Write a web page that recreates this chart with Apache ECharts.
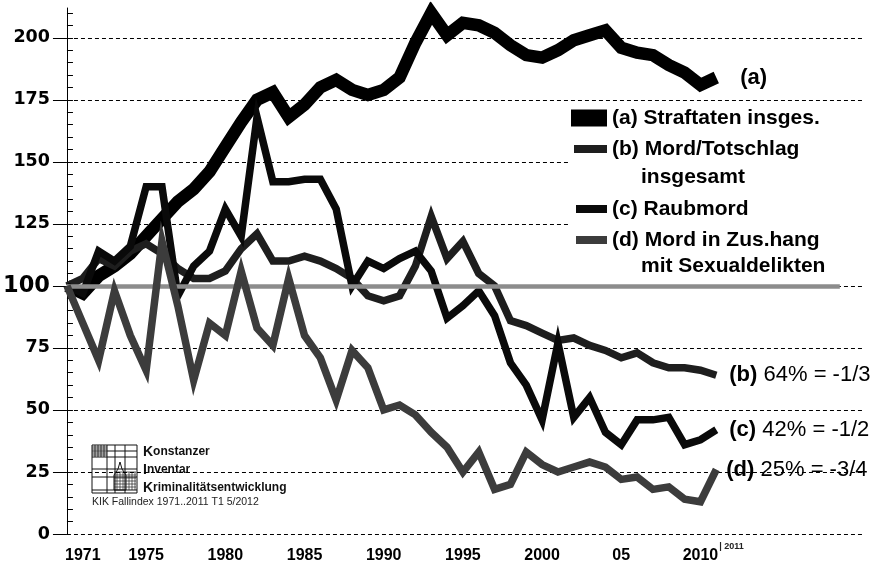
<!DOCTYPE html>
<html>
<head>
<meta charset="utf-8">
<script src="https://cdn.jsdelivr.net/npm/echarts@6/dist/echarts.min.js"></script>
<style>
html,body{margin:0;padding:0;background:#fff;}
#c{width:876px;height:566px;}
</style>
</head>
<body>
<div id="c"></div>
<script>
// ---------- data (index, first year = 100) ----------
const years = [1970,1971,1972,1973,1974,1975,1976,1977,1978,1979,
               1980,1981,1982,1983,1984,1985,1986,1987,1988,1989,
               1990,1991,1992,1993,1994,1995,1996,1997,1998,1999,
               2000,2001,2002,2003,2004,2005,2006,2007,2008,2009,
               2010,2011];
const seriesA = [100,97,104,108,113,120,127,134,139,146,
                 156,166,175,178,168,173,180,183,179,177,
                 179,184,198,210,201,206,205,202,197,193,
                 192,195,199,201,203,196,194,193,189,186,
                 181,184];
const seriesB = [100,103,111,108,114,117,113,107,103,103,
                 106,115,121,110,110,112,110,107,103,96,
                 94,96,108,128,111,118,105,100,86,84,
                 81,78,79,76,74,71,73,69,67,67,
                 66,64];
const seriesC = [100,97,114,110,116,140,140,96,108,114,
                 131,120,168,142,142,143,143,131,100,110,
                 107,111,114,106,87,92,98,88,69,60,
                 46,77,47,55,41,36,46,46,47,36,
                 38,42];
const seriesD = [100,85,70,98,80,66,118,92,62,85,
                 80,106,83,76,103,80,71,54,74,67,
                 50,52,48,41,35,25,33,18,20,33,
                 28,25,27,29,27,22,23,18,19,14,
                 13,26];
const legendNames = ['(a) Straftaten insges.', '(b) Mord/Totschlag\ninsgesamt', '(c) Raubmord', '(d) Mord in Zus.hang\nmit Sexualdelikten'];
const endTags = ['(a)', '(b)', '(c)', '(d)'];
const endTexts = ['', '64% = -1/3', '42% = -1/2', '25% = -3/4'];
const yTickValues = [0,25,50,75,100,125,150,175,200];
const xTickYears = [1971,1975,1980,1985,1990,1995,2000,2005,2010];
const xTickLabels = ['1971','1975','1980','1985','1990','1995','2000','05','2010'];
const lastYearNote = 2011;
const refValue = 100;
const refEndYear = 2018.8;
const logoLines = ['Konstanzer', 'Inventar', 'Kriminalitätsentwicklung'];
const sourceNote = 'KIK Fallindex 1971..2011 T1 5/2012';

// ---------- chart ----------
const FONT = '"Liberation Sans", Arial, Helvetica, sans-serif';
const WIDE = '"DejaVu Sans", "Liberation Sans", Arial, sans-serif';
const chart = echarts.init(document.getElementById('c'), null, {renderer: 'canvas', width: 876, height: 566});

const colors = ['#000000', '#1e1e1e', '#0a0a0a', '#3c3c3c'];
const widths = [12.5, 7.5, 7.5, 7.5];
const endDist = [24, 13, 13, 10];
const allSeries = [seriesA, seriesB, seriesC, seriesD];

const minorTicks = [];
for (let v = 5; v <= 210; v += 5) minorTicks.push(v);

const series = allSeries.map((arr, i) => ({
  name: legendNames[i],
  type: 'line',
  data: years.map((y, k) => [y, arr[k]]),
  symbol: 'none',
  showSymbol: false,
  color: colors[i],
  lineStyle: {color: colors[i], width: widths[i], join: 'miter', miterLimit: 20, cap: 'butt'},
  emphasis: {disabled: true},
  silent: true,
  animation: false,
  z: 2 + i,
  endLabel: {
    show: true,
    distance: endDist[i],
    formatter: '{t|' + endTags[i] + '}' + (endTexts[i] ? ' ' + endTexts[i] : ''),
    color: '#000',
    fontFamily: FONT,
    fontSize: 22,
    rich: {t: {fontFamily: FONT, fontSize: 22, fontWeight: 'bold', color: '#000'}}
  }
}));

series.push({
  name: 'ref',
  type: 'line',
  data: [],
  silent: true,
  animation: false,
  z: 20,
  markLine: {
    silent: true,
    symbol: 'none',
    animation: false,
    label: {show: false},
    lineStyle: {color: '#8c8c8c', width: 4.5, type: 'solid'},
    emphasis: {disabled: true},
    data: [[{coord: [years[0], refValue]}, {coord: [refEndYear, refValue]}]]
  }
});

const legendLayout = [
  {left: 571, top: 105, w: 36, h: 17, lh: 26, multi: false},
  {left: 574, top: 107, w: 33, h: 8, lh: 28, multi: true},
  {left: 576, top: 196, w: 31, h: 8, lh: 26, multi: false},
  {left: 576, top: 201, w: 31, h: 8, lh: 26, multi: true}
];

const legends = legendLayout.map((L, i) => ({
  show: true,
  data: [legendNames[i]],
  left: L.left,
  top: L.top,
  padding: 0,
  icon: 'rect',
  itemWidth: L.w,
  itemHeight: L.h,
  selectedMode: false,
  itemStyle: {borderWidth: 0},
  formatter: function (n) {
    const p = n.split('\n');
    return p.length > 1 ? p[0] + '\n{ind|' + p[1] + '}' : n;
  },
  textStyle: {
    fontFamily: FONT, fontSize: 21, fontWeight: 'bold', color: '#000',
    lineHeight: L.lh,
    padding: L.multi ? [L.lh, 0, 0, 0] : 0,
    rich: {ind: {fontFamily: FONT, fontSize: 21, fontWeight: 'bold', color: '#000', lineHeight: L.lh, padding: [0, 0, 0, 29]}}
  }
}));

// logo drawing (decoration)
const logoG = [];
const lx = 92, ly = 445, lw = 45, lh = 48;
logoG.push({type: 'rect', shape: {x: lx, y: ly, width: lw, height: lh}, style: {fill: 'none', stroke: '#111', lineWidth: 1}});
[15, 23, 33].forEach(dx => logoG.push({type: 'line', shape: {x1: lx + dx, y1: ly, x2: lx + dx, y2: ly + lh}, style: {stroke: '#111', lineWidth: 1}}));
[6, 12, 24, 32, 45].forEach(dy => logoG.push({type: 'line', shape: {x1: lx, y1: ly + dy, x2: lx + lw, y2: ly + dy}, style: {stroke: '#111', lineWidth: 1}}));
[2, 4, 8, 10].forEach(dy => logoG.push({type: 'line', shape: {x1: lx, y1: ly + dy, x2: lx + 15, y2: ly + dy}, style: {stroke: '#111', lineWidth: 0.8}}));
[3, 6, 9, 12].forEach(dx => logoG.push({type: 'line', shape: {x1: lx + dx, y1: ly, x2: lx + dx, y2: ly + 12}, style: {stroke: '#111', lineWidth: 0.8}}));
logoG.push({type: 'polygon', shape: {points: [[lx + 22, ly + 45], [lx + 22, ly + 30], [lx + 26, ly + 24], [lx + 28, ly + 17], [lx + 30, ly + 24], [lx + 34, ly + 30], [lx + 34, ly + 45]]}, style: {fill: 'none', stroke: '#111', lineWidth: 1}});
[27, 30, 33, 36, 39, 42].forEach(dy => logoG.push({type: 'line', shape: {x1: lx + 22, y1: ly + dy, x2: lx + 44, y2: ly + dy}, style: {stroke: '#222', lineWidth: 0.7}}));
[25, 28, 31, 37, 40, 43].forEach(dx => logoG.push({type: 'line', shape: {x1: lx + dx, y1: ly + 27, x2: lx + dx, y2: ly + 45}, style: {stroke: '#222', lineWidth: 0.7}}));
[0, 1, 2].forEach(k => logoG.push({type: 'text', style: {
  x: 143, y: 452 + k * 18, text: '{k|' + logoLines[k].charAt(0) + '}' + logoLines[k].slice(1),
  fill: '#111', font: 'bold 12px ' + FONT, verticalAlign: 'middle',
  rich: {k: {fontSize: 14, fontWeight: 'bold', fontFamily: FONT, fill: '#111'}}
}}));
logoG.push({type: 'text', style: {x: 92, y: 502, text: sourceNote, fill: '#222', font: '10.5px ' + FONT, verticalAlign: 'middle'}});

const option = {
  animation: false,
  backgroundColor: '#fff',
  textStyle: {fontFamily: FONT},
  grid: {left: 66, right: 14, top: 8, bottom: 32, containLabel: false},
  legend: legends,
  xAxis: {
    type: 'value', min: 1970, max: 2020.2,
    axisLine: {show: false},
    axisTick: {show: false},
    splitLine: {show: false},
    axisLabel: {
      show: true,
      customValues: xTickYears,
      formatter: function (v) { const k = xTickYears.indexOf(v); return k >= 0 ? xTickLabels[k] : ''; },
      fontFamily: FONT, fontSize: 16, fontWeight: 'bold', color: '#000', margin: 14
    }
  },
  yAxis: [{
    type: 'value', min: 0, max: 212, position: 'left',
    axisLine: {show: true, lineStyle: {color: '#000', width: 1}},
    axisTick: {show: true, customValues: yTickValues, length: 14, lineStyle: {color: '#000', width: 1}},
    axisLabel: {
      show: true, customValues: yTickValues,
      formatter: function (v) { return v === refValue ? '{big|' + v + '}' : String(v); },
      fontFamily: WIDE, fontSize: 17.5, fontWeight: 'bold', color: '#000', margin: 17,
      rich: {big: {fontFamily: WIDE, fontSize: 22.5, fontWeight: 'bold', color: '#000'}}
    },
    splitLine: {show: true, lineStyle: {color: '#000', width: 1, type: [4, 3]}}
  }, {
    type: 'value', min: 0, max: 212, position: 'left', offset: 0,
    axisLine: {show: false},
    axisLabel: {show: false},
    splitLine: {show: false},
    axisTick: {show: true, inside: true, customValues: minorTicks, length: 6, lineStyle: {color: '#000', width: 1}}
  }],
  graphic: [
    {type: 'rect', z: 1, silent: true, shape: {x: 570, y: 128, width: 295, height: 148}, style: {fill: '#fff'}},
    {type: 'group', silent: true, children: logoG}
  ],
  series: series
};
chart.setOption(option);

const px2011 = chart.convertToPixel({xAxisIndex: 0}, lastYearNote);
chart.setOption({
  graphic: [
    {type: 'rect', z: 1, silent: true, shape: {x: 570, y: 128, width: 295, height: 148}, style: {fill: '#fff'}},
    {type: 'group', silent: true, children: logoG},
    {type: 'text', silent: true, style: {x: px2011 + 3, y: 547, text: '| ' + lastYearNote, fill: '#222', font: 'bold 9px ' + FONT, verticalAlign: 'middle'}}
  ]
});
</script>
</body>
</html>
